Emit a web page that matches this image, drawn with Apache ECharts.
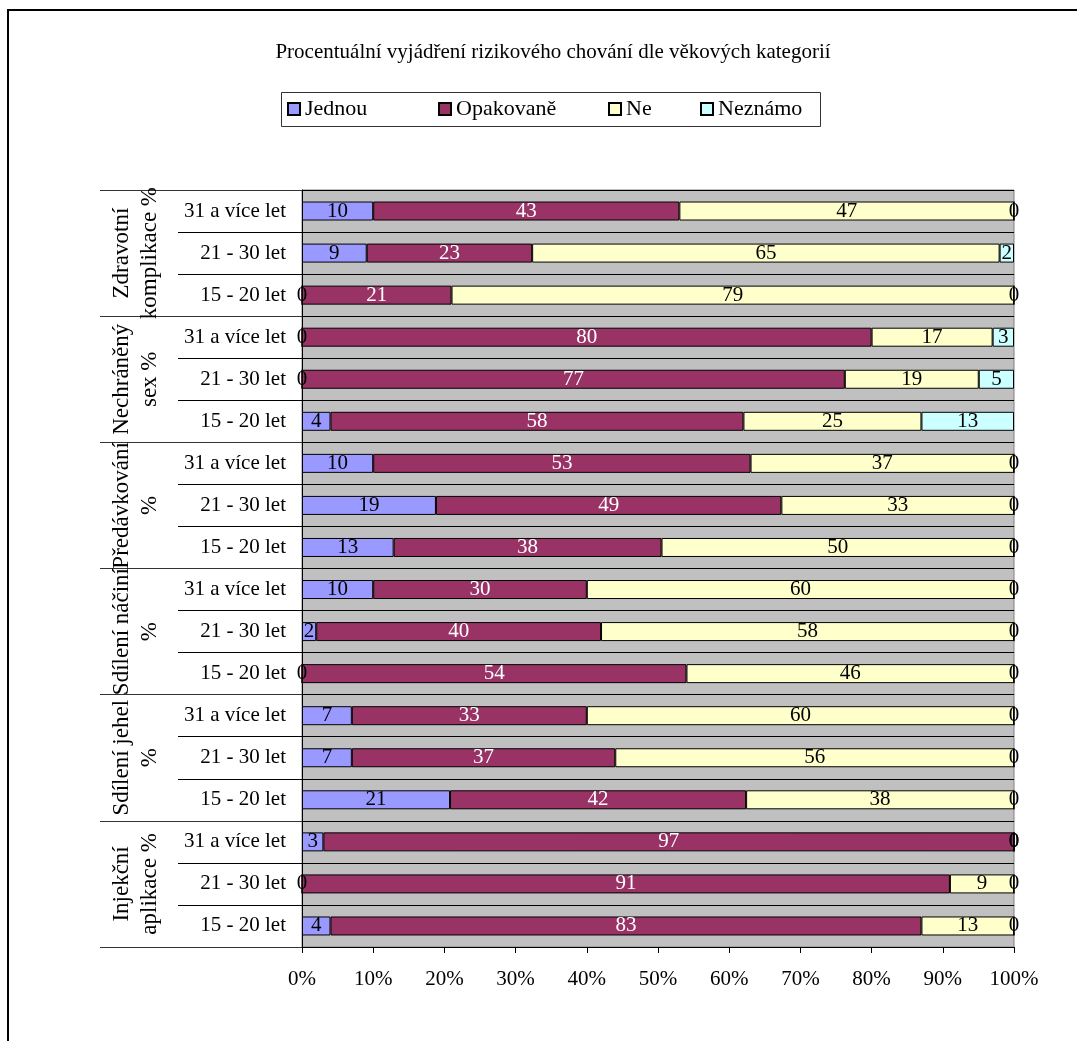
<!DOCTYPE html>
<html>
<head>
<meta charset="utf-8">
<script src="https://cdn.jsdelivr.net/npm/echarts@6/dist/echarts.min.js"></script>
<style>
  html, body { margin: 0; padding: 0; background: #fff; }
  #chart { width: 1077px; height: 1041px; }
</style>
</head>
<body>
<div id="chart"></div>
<script>
// Behaviour groups (outer category level) and age bands (inner level), top to bottom
const groups = [
  'Zdravotní\nkomplikace %',
  'Nechráněný\nsex %',
  'Předávkování\n%',
  'Sdílení náčiní\n%',
  'Sdílení jehel\n%',
  'Injekční\naplikace %'
];
const ages = ['31 a více let', '21 - 30 let', '15 - 20 let'];

// One row per group × age band, in the same top-to-bottom order
const jednou    = [10, 9, 0,   0, 0, 4,   10, 19, 13,   10, 2, 0,   7, 7, 21,   3, 0, 4];
const opakovane = [43, 23, 21, 80, 77, 58, 53, 49, 38,  30, 40, 54, 33, 37, 42,  97, 91, 83];
const ne        = [47, 65, 79, 17, 19, 25, 37, 33, 50,  60, 58, 46, 60, 56, 38,  0, 9, 13];
const neznamo   = [0, 2, 0,    3, 5, 13,  0, 0, 0,      0, 0, 0,    0, 0, 0,     0, 0, 0];

const xTicks = [0, 10, 20, 30, 40, 50, 60, 70, 80, 90, 100];

const seriesNames = ['Jednou', 'Opakovaně', 'Ne', 'Neznámo'];
const seriesRaw = [jednou, opakovane, ne, neznamo];
const seriesColors = ['#9999FF', '#993366', '#FFFFCC', '#CCFFFF'];
const labelColors = ['#000', '#fff', '#000', '#000'];

const rowLabels = [];
groups.forEach(() => ages.forEach(a => rowLabels.push(a)));

// Each row is shown as a 100 % stacked bar
const rowTotals = rowLabels.map((_, i) => seriesRaw.reduce((s, arr) => s + arr[i], 0));

const FONT = 'Liberation Serif';

const chart = echarts.init(document.getElementById('chart'));

const legendLefts = [287, 438, 608, 700];

chart.setOption({
  animation: false,
  textStyle: { fontFamily: FONT, color: '#000' },
  title: {
    text: 'Procentuální vyjádření rizikového chování dle věkových kategorií',
    left: 548,
    textAlign: 'center',
    top: 37,
    textStyle: { fontFamily: FONT, fontSize: 21, fontWeight: 'normal', color: '#000' }
  },
  legend: seriesNames.map((n, i) => ({
    data: [n],
    left: legendLefts[i],
    top: 98,
    padding: 0,
    itemWidth: 12,
    itemHeight: 12,
    icon: 'rect',
    selectedMode: false,
    textStyle: { fontFamily: FONT, fontSize: 22, color: '#000', lineHeight: 22 }
  })),
  graphic: [
    {
      type: 'rect',
      shape: { x: 8, y: 10, width: 1200, height: 1200 },
      style: { fill: 'none', stroke: '#000', lineWidth: 2 },
      silent: true
    },
    {
      type: 'rect',
      shape: { x: 281.5, y: 92.5, width: 539, height: 34 },
      style: { fill: 'none', stroke: '#333', lineWidth: 1 },
      silent: true,
      z: -1
    }
  ],
  grid: {
    left: 302,
    right: 63,
    top: 190,
    bottom: 94,
    show: true,
    backgroundColor: '#C0C0C0',
    borderColor: '#808080',
    borderWidth: 1
  },
  xAxis: {
    type: 'value',
    min: xTicks[0],
    max: xTicks[xTicks.length - 1],
    interval: 10,
    axisLine: { show: true, lineStyle: { color: '#000', width: 1 } },
    axisTick: { show: true, length: 6, lineStyle: { color: '#000' } },
    splitLine: { show: false },
    axisLabel: {
      formatter: '{value}%',
      fontFamily: FONT,
      fontSize: 21,
      color: '#000',
      margin: 22
    }
  },
  yAxis: [
    {
      type: 'category',
      data: rowLabels,
      inverse: true,
      axisLine: { show: true, lineStyle: { color: '#000', width: 1 } },
      axisTick: { show: true, length: 124, lineStyle: { color: '#000' } },
      splitLine: { show: true, lineStyle: { color: '#000', width: 1 } },
      axisLabel: {
        interval: 0,
        fontFamily: FONT,
        fontSize: 21,
        color: '#000',
        margin: 16
      }
    },
    {
      type: 'category',
      data: groups,
      inverse: true,
      position: 'left',
      axisLine: { show: false },
      axisTick: { show: true, length: 202, lineStyle: { color: '#333' } },
      splitLine: { show: false },
      axisLabel: {
        interval: 0,
        rotate: 90,
        fontFamily: FONT,
        fontSize: 23,
        lineHeight: 28,
        color: '#000',
        margin: 138
      }
    }
  ],
  series: seriesNames.map((name, si) => ({
    name,
    type: 'bar',
    stack: 'total',
    yAxisIndex: 0,
    barWidth: 19,
    itemStyle: { color: seriesColors[si], borderColor: '#000', borderWidth: 1 },
    label: {
      show: true,
      position: 'inside',
      fontFamily: FONT,
      fontSize: 21,
      color: labelColors[si],
      textBorderWidth: 0,
      formatter: p => String(seriesRaw[si][p.dataIndex])
    },
    data: seriesRaw[si].map((v, i) => v / rowTotals[i] * 100)
  }))
});
</script>
</body>
</html>
